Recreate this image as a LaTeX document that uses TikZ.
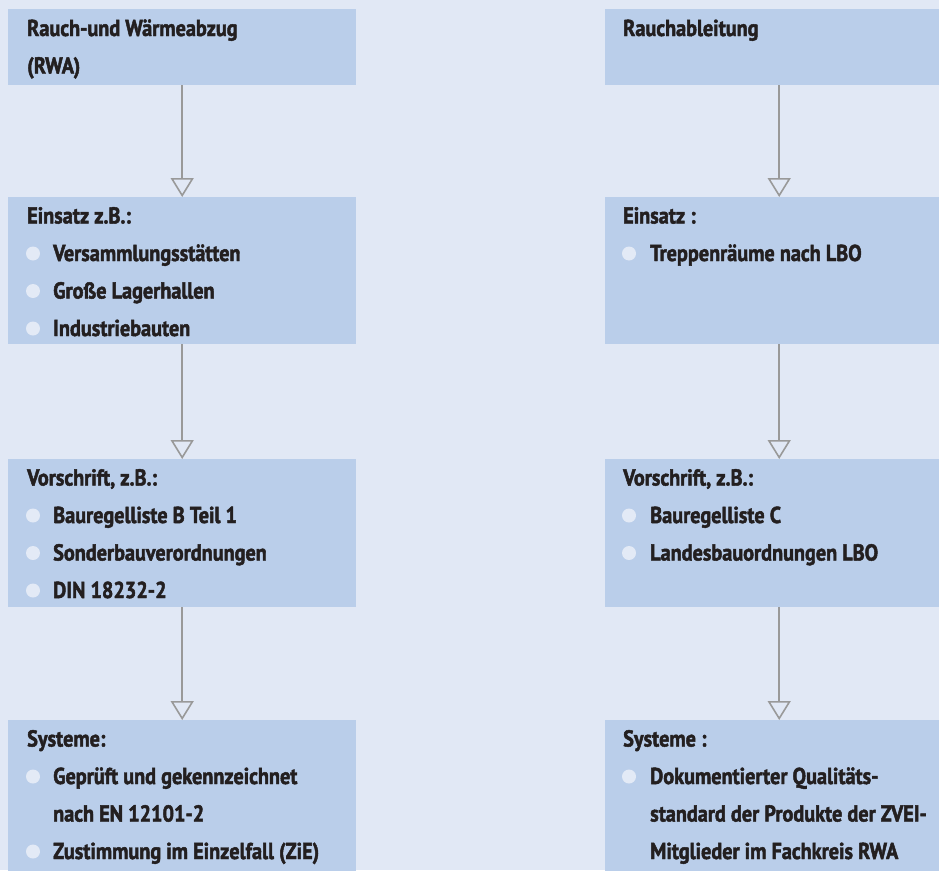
\documentclass[tikz,border=0pt]{standalone}
\usepackage{fontspec}
\setmainfont{PT Sans}[FakeStretch=0.88, BoldFeatures={FakeBold=2}]
\usetikzlibrary{arrows.meta}
\definecolor{bg}{HTML}{E1E8F5}
\definecolor{boxc}{HTML}{BACEEA}
\definecolor{bulc}{HTML}{E3EAF6}
\definecolor{arrc}{HTML}{999999}
\definecolor{txtc}{HTML}{231F20}
\tikzset{
  box/.style={fill=boxc, draw=none, anchor=north west, inner sep=0pt, minimum width=348pt},
  txt/.style={anchor=base west, inner sep=0pt, text=txtc, font=\bfseries\fontsize{23}{27}\selectfont},
  bul/.style={circle, fill=bulc, draw=none, minimum size=14pt, inner sep=0pt},
  arr/.style={draw=arrc, line width=1.6pt, -{Triangle[open, width=23pt, length=19pt, line width=1.6pt]}}
}
\begin{document}
\begin{tikzpicture}[x=1pt, y=-1pt]
\fill[bg] (0,0) rectangle (939,870);
\useasboundingbox (0,0) rectangle (939,870);
\clip (0,0) rectangle (939,870);
% left column
\node[box, minimum height=76pt] (l1) at (8,9) {};
\node[box, minimum height=147pt] (l2) at (8,197) {};
\node[box, minimum height=148pt] (l3) at (8,459) {};
\node[box, minimum height=160pt] (l4) at (8,720) {};
% right column
\node[box, minimum height=76pt] (r1) at (605,9) {};
\node[box, minimum height=147pt] (r2) at (605,197) {};
\node[box, minimum height=148pt] (r3) at (605,459) {};
\node[box, minimum height=160pt] (r4) at (605,720) {};
% arrows
\draw[arr] (l1.south) -- (l2.north);
\draw[arr] (l2.south) -- (l3.north);
\draw[arr] (l3.south) -- (l4.north);
\draw[arr] (r1.south) -- (r2.north);
\draw[arr] (r2.south) -- (r3.north);
\draw[arr] (r3.south) -- (r4.north);
% left texts
\node[txt] (l1a) at (27,36) {Rauch-und Wärmeabzug};
\node[txt] (l1b) at (27,73.5) {(RWA)};
\node[txt] (l2h) at (27,223.5) {Einsatz z.B.:};
\node[bul] (l2p1) at (33,253.5) {};
\node[txt] (l2a) at (53,261) {Versammlungsstätten};
\node[bul] (l2p2) at (33,291) {};
\node[txt] (l2b) at (53,298.5) {Große Lagerhallen};
\node[bul] (l2p3) at (33,328.5) {};
\node[txt] (l2c) at (53,336) {Industriebauten};
\node[txt] (l3h) at (27,485.5) {Vorschrift, z.B.:};
\node[bul] (l3p1) at (33,515.5) {};
\node[txt] (l3a) at (53,523) {Bauregelliste B Teil 1};
\node[bul] (l3p2) at (33,553) {};
\node[txt] (l3b) at (53,560.5) {Sonderbauverordnungen};
\node[bul] (l3p3) at (33,590.5) {};
\node[txt] (l3c) at (53,598) {DIN 18232-2};
\node[txt] (l4h) at (27,746.5) {Systeme:};
\node[bul] (l4p1) at (33,776.5) {};
\node[txt] (l4a) at (53,784) {Geprüft und gekennzeichnet};
\node[txt] (l4b) at (53,821.5) {nach EN 12101-2};
\node[bul] (l4p2) at (33,851.5) {};
\node[txt] (l4c) at (53,859) {Zustimmung im Einzelfall (ZiE)};
% right texts
\node[txt] (r1a) at (623,36) {Rauchableitung};
\node[txt] (r2h) at (623,223.5) {Einsatz :};
\node[bul] (r2p1) at (629,253.5) {};
\node[txt] (r2a) at (650,261) {Treppenräume nach LBO};
\node[txt] (r3h) at (623,485.5) {Vorschrift, z.B.:};
\node[bul] (r3p1) at (629,515.5) {};
\node[txt] (r3a) at (650,523) {Bauregelliste C};
\node[bul] (r3p2) at (629,553) {};
\node[txt] (r3b) at (650,560.5) {Landesbauordnungen LBO};
\node[txt] (r4h) at (623,746.5) {Systeme :};
\node[bul] (r4p1) at (629,776.5) {};
\node[txt] (r4a) at (650,784) {Dokumentierter Qualitäts-};
\node[txt] (r4b) at (650,821.5) {standard der Produkte der ZVEI-};
\node[txt] (r4c) at (650,859) {Mitglieder im Fachkreis RWA};
\end{tikzpicture}
\end{document}
